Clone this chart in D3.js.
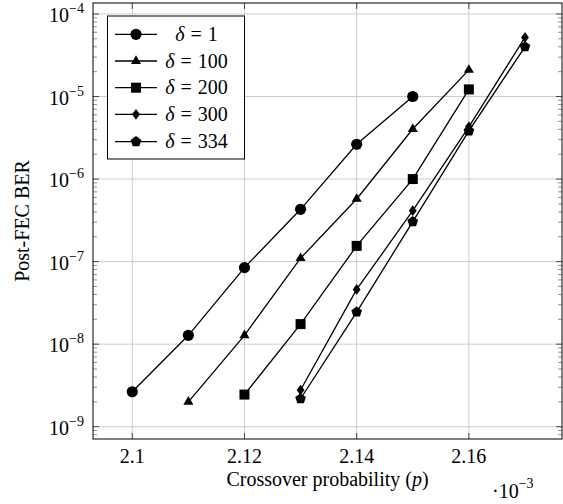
<!DOCTYPE html>
<html>
<head>
<meta charset="utf-8">
<script src="https://cdn.jsdelivr.net/npm/d3@7.9.0/dist/d3.min.js"></script>
<style>
  body { margin: 0; background: #fff; }
  svg text { font-family: "Liberation Serif", "DejaVu Serif", serif; }
</style>
</head>
<body>
<svg id="chart" width="563" height="504" font-family="Liberation Serif, DejaVu Serif, serif"></svg>
<script>
// crossover probability, in units of 1e-3
const pDelta1 = [2.10, 2.11, 2.12, 2.13, 2.14, 2.15];
const berDelta1 = [2.65e-9, 1.28e-8, 8.45e-8, 4.3e-7, 2.64e-6, 1.0e-5];

const pDelta100 = [2.11, 2.12, 2.13, 2.14, 2.15, 2.16];
const berDelta100 = [2.0e-9, 1.28e-8, 1.1e-7, 5.74e-7, 4.04e-6, 2.1e-5];

const pDelta200 = [2.12, 2.13, 2.14, 2.15, 2.16];
const berDelta200 = [2.45e-9, 1.75e-8, 1.55e-7, 1.0e-6, 1.22e-5];

const pDelta300 = [2.13, 2.14, 2.15, 2.16, 2.17];
const berDelta300 = [2.78e-9, 4.6e-8, 4.14e-7, 4.3e-6, 5.2e-5];

const pDelta334 = [2.13, 2.14, 2.15, 2.16, 2.17];
const berDelta334 = [2.18e-9, 2.45e-8, 3.05e-7, 3.83e-6, 4.0e-5];

const seriesNames = ['1', '100', '200', '300', '334'];
const seriesMarks = ['circle', 'triangle', 'square', 'diamond', 'pentagon'];

const xTicks = [2.10, 2.12, 2.14, 2.16];
const xTickLabels = ['2.1', '2.12', '2.14', '2.16'];
const yExponents = [-4, -5, -6, -7, -8, -9];

const series = [
  { p: pDelta1, ber: berDelta1 },
  { p: pDelta100, ber: berDelta100 },
  { p: pDelta200, ber: berDelta200 },
  { p: pDelta300, ber: berDelta300 },
  { p: pDelta334, ber: berDelta334 },
].map((s, i) => ({
  name: seriesNames[i],
  mark: seriesMarks[i],
  points: s.p.map((p, j) => ({ p, ber: s.ber[j] })),
}));

const FONT = 'Liberation Serif, DejaVu Serif, serif';
const plot = { left: 93, right: 562, top: 3, bottom: 439 };
const svg = d3.select('#chart');

const x = d3.scaleLinear().domain([2.093, 2.1766]).range([plot.left, plot.right]);
const y = d3.scaleLog()
  .domain([Math.pow(10, -9.149), Math.pow(10, -3.867)])
  .range([plot.bottom, plot.top]);

// grid
const grid = svg.append('g').attr('stroke', '#cccccc').attr('stroke-width', 1);
grid.selectAll('line.gx').data(xTicks).join('line')
  .attr('class', 'gx')
  .attr('x1', (d) => x(d)).attr('x2', (d) => x(d))
  .attr('y1', plot.top).attr('y2', plot.bottom);
grid.selectAll('line.gy').data(yExponents).join('line')
  .attr('class', 'gy')
  .attr('x1', plot.left).attr('x2', plot.right)
  .attr('y1', (d) => y(Math.pow(10, d))).attr('y2', (d) => y(Math.pow(10, d)));

// minor y ticks
const minorVals = [];
for (let e = -10; e <= -4; e++) {
  for (let m = 2; m <= 9; m++) {
    const v = m * Math.pow(10, e);
    if (v > y.domain()[0] && v < y.domain()[1]) minorVals.push(v);
  }
}
const minor = svg.append('g').attr('stroke', '#777').attr('stroke-width', 0.8);
minor.selectAll('line.l').data(minorVals).join('line')
  .attr('class', 'l')
  .attr('x1', plot.left).attr('x2', plot.left + 4)
  .attr('y1', (d) => y(d)).attr('y2', (d) => y(d));
minor.selectAll('line.r').data(minorVals).join('line')
  .attr('class', 'r')
  .attr('x1', plot.right - 4).attr('x2', plot.right)
  .attr('y1', (d) => y(d)).attr('y2', (d) => y(d));

// major ticks
const major = svg.append('g').attr('stroke', '#222').attr('stroke-width', 0.8);
xTicks.forEach((t) => {
  major.append('line').attr('x1', x(t)).attr('x2', x(t)).attr('y1', plot.bottom).attr('y2', plot.bottom - 6);
  major.append('line').attr('x1', x(t)).attr('x2', x(t)).attr('y1', plot.top).attr('y2', plot.top + 6);
});
yExponents.forEach((e) => {
  const yy = y(Math.pow(10, e));
  major.append('line').attr('x1', plot.left).attr('x2', plot.left + 6).attr('y1', yy).attr('y2', yy);
  major.append('line').attr('x1', plot.right - 6).attr('x2', plot.right).attr('y1', yy).attr('y2', yy);
});

// frame
svg.append('rect')
  .attr('x', plot.left).attr('y', plot.top)
  .attr('width', plot.right - plot.left).attr('height', plot.bottom - plot.top)
  .attr('fill', 'none').attr('stroke', '#000').attr('stroke-width', 1);

// tick labels
svg.append('g').selectAll('text').data(xTicks).join('text')
  .attr('font-family', FONT)
  .attr('x', (d) => x(d)).attr('y', 462.5)
  .attr('text-anchor', 'middle').attr('font-size', 20)
  .text((d, i) => xTickLabels[i]);

const yLab = svg.append('g').selectAll('text').data(yExponents).join('text')
  .attr('font-family', FONT)
  .attr('x', 84).attr('y', (d) => y(Math.pow(10, d)) + 8)
  .attr('text-anchor', 'end').attr('font-size', 20);
yLab.append('tspan').text('10');
yLab.append('tspan').attr('dy', -9).attr('font-size', 14).text((d) => '\u2212' + Math.abs(d));

// axis labels
svg.append('text')
  .attr('font-family', FONT)
  .attr('x', (plot.left + plot.right) / 2).attr('y', 486)
  .attr('text-anchor', 'middle').attr('font-size', 20)
  .call((t) => {
    t.append('tspan').text('Crossover probability (');
    t.append('tspan').attr('font-style', 'italic').text('p');
    t.append('tspan').text(')');
  });

svg.append('text')
  .attr('font-family', FONT)
  .attr('transform', `translate(28.5,${(plot.top + plot.bottom) / 2}) rotate(-90)`)
  .attr('text-anchor', 'middle').attr('font-size', 20)
  .text('Post-FEC BER');

const scaleNote = svg.append('text').attr('font-family', FONT)
  .attr('x', 492).attr('y', 498).attr('font-size', 20);
scaleNote.append('tspan').text('\u00b710');
scaleNote.append('tspan').attr('dy', -10).attr('font-size', 14).text('\u22123');

// marker shapes
function markPath(kind) {
  const r = 5.6;
  if (kind === 'circle') return d3.symbol(d3.symbolCircle, Math.PI * r * r)();
  if (kind === 'square') return 'M-5,-5H5V5H-5Z';
  if (kind === 'triangle') {
    const rt = 5.8;
    return `M0,${-rt}L${0.866 * rt},${0.5 * rt}L${-0.866 * rt},${0.5 * rt}Z`;
  }
  if (kind === 'diamond') return 'M0,-5.4L3.9,0L0,5.4L-3.9,0Z';
  if (kind === 'pentagon') {
    const rp = 5.6;
    const pts = d3.range(5).map((k) => {
      const a = -Math.PI / 2 + (k * 2 * Math.PI) / 5;
      return [rp * Math.cos(a), rp * Math.sin(a)];
    });
    return 'M' + pts.map((p) => p.join(',')).join('L') + 'Z';
  }
}

const line = d3.line().x((d) => x(d.p)).y((d) => y(d.ber));

const layer = svg.append('g');
series.forEach((s) => {
  const g = layer.append('g');
  g.append('path').attr('d', line(s.points))
    .attr('fill', 'none').attr('stroke', '#000').attr('stroke-width', 1.3);
  g.selectAll('path.m').data(s.points).join('path')
    .attr('class', 'm')
    .attr('transform', (d) => `translate(${x(d.p)},${y(d.ber)})`)
    .attr('d', markPath(s.mark))
    .attr('fill', '#000');
});

// legend
const legend = svg.append('g');
legend.append('rect')
  .attr('x', 107.5).attr('y', 16).attr('width', 137).attr('height', 143)
  .attr('fill', '#fff').attr('stroke', '#000').attr('stroke-width', 1);
const rowY = [34.3, 61, 87.7, 114.3, 141.7];
series.forEach((s, i) => {
  const yy = rowY[i];
  legend.append('line').attr('x1', 115).attr('x2', 157).attr('y1', yy).attr('y2', yy)
    .attr('stroke', '#000').attr('stroke-width', 1.3);
  legend.append('path').attr('transform', `translate(136,${yy})`)
    .attr('d', markPath(s.mark)).attr('fill', '#000');
  const t = legend.append('text').attr('font-family', FONT)
    .attr('y', yy + 6.5).attr('font-size', 20);
  t.append('tspan').attr('font-style', 'italic').text('\u03b4');
  t.append('tspan').attr('dx', 6).text('=');
  t.append('tspan').attr('dx', 6).text(s.name);
  const w = t.node().getComputedTextLength() + 12;
  t.attr('x', 196.5 - w / 2);
});
</script>
</body>
</html>
